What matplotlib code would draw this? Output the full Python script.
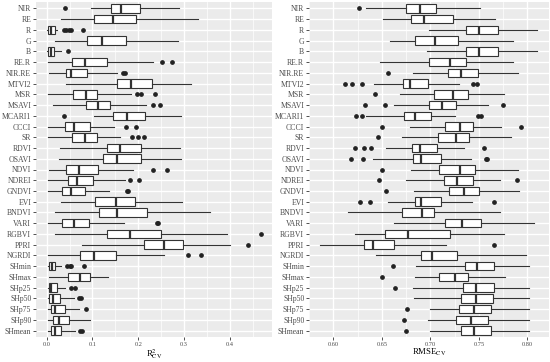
import matplotlib
matplotlib.use("Agg")
import matplotlib.pyplot as plt
from matplotlib.ticker import MultipleLocator

labels = ["NIR", "RE", "R", "G", "B", "RE.R", "NIR.RE", "MTVI2", "MSR", "MSAVI",
          "MCARI1", "CCCI", "SR", "RDVI", "OSAVI", "NDVI", "NDREI", "GNDVI", "EVI",
          "BNDVI", "VARI", "RGBVI", "PPRI", "NGRDI", "SHmin", "SHmax", "SHp25",
          "SHp50", "SHp75", "SHp90", "SHmean"]

# R2_CV : whisker low, q1, median, q3, whisker high, outliers
r2_lo = [0.097, 0.032, 0.000, 0.019, 0.000, 0.003, 0.004, 0.043, 0.003, 0.014,
         0.104, 0.003, 0.003, 0.030, 0.027, 0.004, 0.003, 0.003, 0.032, 0.017,
         0.003, 0.017, 0.078, 0.003, 0.002, 0.006, 0.002, 0.002, 0.003, 0.003, 0.003]
r2_q1 = [0.141, 0.103, 0.003, 0.089, 0.003, 0.055, 0.043, 0.153, 0.058, 0.085,
         0.145, 0.040, 0.056, 0.131, 0.123, 0.043, 0.047, 0.034, 0.105, 0.114,
         0.034, 0.132, 0.212, 0.072, 0.004, 0.047, 0.004, 0.006, 0.009, 0.014, 0.009]
r2_med = [0.163, 0.145, 0.009, 0.120, 0.009, 0.083, 0.054, 0.185, 0.086, 0.113,
          0.176, 0.060, 0.083, 0.161, 0.153, 0.071, 0.067, 0.054, 0.152, 0.153,
          0.060, 0.181, 0.257, 0.104, 0.011, 0.072, 0.009, 0.014, 0.019, 0.027, 0.017]
r2_q3 = [0.204, 0.196, 0.017, 0.173, 0.015, 0.132, 0.088, 0.230, 0.110, 0.138,
         0.214, 0.094, 0.109, 0.205, 0.207, 0.111, 0.101, 0.083, 0.192, 0.219,
         0.093, 0.250, 0.298, 0.152, 0.019, 0.094, 0.022, 0.029, 0.040, 0.049, 0.032]
r2_hi = [0.290, 0.330, 0.022, 0.286, 0.032, 0.232, 0.154, 0.316, 0.185, 0.217,
         0.294, 0.146, 0.160, 0.291, 0.294, 0.189, 0.171, 0.137, 0.295, 0.358,
         0.168, 0.394, 0.401, 0.256, 0.032, 0.134, 0.039, 0.059, 0.071, 0.094, 0.061]
r2_out = [[0.039], [], [0.037, 0.042, 0.048, 0.054, 0.079], [], [0.046],
          [0.253, 0.273], [0.167, 0.172], [], [0.198, 0.206, 0.236], [0.232, 0.248],
          [0.037], [0.174, 0.196], [0.187, 0.199, 0.212], [], [],
          [0.232, 0.263], [0.183, 0.201], [0.175, 0.178], [], [],
          [0.240, 0.243], [0.469], [0.439], [0.309, 0.338], [0.045, 0.050, 0.054, 0.081],
          [], [0.053, 0.061], [0.070, 0.075], [0.086], [], [0.072, 0.078]]

# RMSE_CV
rm_lo = [0.634, 0.651, 0.698, 0.658, 0.696, 0.648, 0.682, 0.642, 0.669, 0.662,
         0.634, 0.679, 0.671, 0.654, 0.641, 0.680, 0.675, 0.683, 0.656, 0.615,
         0.662, 0.622, 0.586, 0.644, 0.685, 0.684, 0.682, 0.683, 0.700, 0.697, 0.700]
rm_q1 = [0.675, 0.680, 0.737, 0.684, 0.737, 0.699, 0.718, 0.672, 0.704, 0.699,
         0.673, 0.715, 0.708, 0.681, 0.682, 0.709, 0.714, 0.719, 0.684, 0.671,
         0.715, 0.653, 0.631, 0.690, 0.736, 0.709, 0.734, 0.732, 0.729, 0.726, 0.731]
rm_med = [0.689, 0.693, 0.750, 0.705, 0.750, 0.720, 0.731, 0.679, 0.723, 0.712,
          0.684, 0.730, 0.726, 0.689, 0.690, 0.730, 0.727, 0.735, 0.690, 0.691,
          0.733, 0.677, 0.641, 0.702, 0.748, 0.725, 0.747, 0.747, 0.745, 0.742, 0.745]
rm_q3 = [0.706, 0.723, 0.770, 0.728, 0.770, 0.737, 0.749, 0.697, 0.739, 0.726,
         0.701, 0.744, 0.740, 0.707, 0.711, 0.746, 0.744, 0.750, 0.711, 0.704,
         0.752, 0.720, 0.662, 0.727, 0.766, 0.739, 0.766, 0.764, 0.762, 0.759, 0.762]
rm_hi = [0.751, 0.767, 0.810, 0.785, 0.810, 0.785, 0.790, 0.729, 0.776, 0.759,
         0.725, 0.773, 0.783, 0.735, 0.742, 0.790, 0.772, 0.791, 0.743, 0.772,
         0.807, 0.776, 0.716, 0.799, 0.802, 0.777, 0.802, 0.802, 0.802, 0.802, 0.802]
rm_out = [[0.626], [], [], [], [], [], [0.656], [0.612, 0.619, 0.629, 0.744, 0.748],
          [0.643], [0.633, 0.653, 0.775], [0.623, 0.629, 0.749, 0.752], [0.650, 0.793],
          [0.646], [0.622, 0.631, 0.639, 0.755], [0.618, 0.630, 0.757, 0.758], [0.650],
          [0.647, 0.789], [0.654], [0.627, 0.638, 0.766], [], [], [], [0.766], [],
          [0.661], [0.650], [0.663], [], [0.676], [0.673], [0.675]]

plt.rcParams['font.family'] = ['Liberation Serif', 'DejaVu Serif']
plt.rcParams['mathtext.fontset'] = 'stix'


def make_stats(lo, q1, med, q3, hi, out):
    return [dict(whislo=a, q1=b, med=c, q3=d, whishi=e, fliers=f, label=n)
            for a, b, c, d, e, f, n in zip(lo, q1, med, q3, hi, out, labels)]


def draw(ax, stats, xlim, major, minor, xlabel, fmt):
    ax.set_facecolor("#EBEBEB")
    for s in ax.spines.values():
        s.set_visible(False)
    ax.xaxis.set_major_locator(MultipleLocator(major))
    ax.xaxis.set_minor_locator(MultipleLocator(minor))
    ax.grid(which="major", color="white", linewidth=1.0)
    ax.grid(which="minor", axis="x", color="white", linewidth=0.5)
    ax.set_axisbelow(True)
    pos = list(range(1, len(labels) + 1))
    ax.bxp(stats, positions=pos, vert=False, widths=0.8, showcaps=False,
           patch_artist=True,
           boxprops=dict(facecolor="white", edgecolor="#333333", linewidth=0.8),
           medianprops=dict(color="#333333", linewidth=1.6),
           whiskerprops=dict(color="#333333", linewidth=0.8),
           flierprops=dict(marker="o", markerfacecolor="#222222",
                           markeredgecolor="#222222", markersize=2.4))
    ax.set_ylim(len(labels) + 0.6, 0.4)
    ax.set_xlim(*xlim)
    ax.set_yticks(pos)
    ax.set_yticklabels(labels)
    ax.xaxis.set_major_formatter(plt.FuncFormatter(lambda v, p: fmt.format(v)))
    ax.tick_params(axis="both", which="major", length=2.2, color="#333333",
                   labelcolor="#4D4D4D", pad=1.2, width=0.6)
    ax.tick_params(axis="y", labelsize=5.6)
    ax.tick_params(axis="x", labelsize=4.6)
    ax.tick_params(which="minor", length=0)
    ax.set_xlabel(xlabel, fontsize=6.3, labelpad=0.3)


fig = plt.figure(figsize=(5.5, 3.62), dpi=100)
ax1 = fig.add_axes([36 / 550, 25 / 362, 236 / 550, 335 / 362])
ax2 = fig.add_axes([309 / 550, 25 / 362, 240 / 550, 335 / 362])

draw(ax1, make_stats(r2_lo, r2_q1, r2_med, r2_q3, r2_hi, r2_out),
     (-0.0235, 0.4925), 0.1, 0.05, r"R$^2_{\mathrm{CV}}$", "{:.1f}")
draw(ax2, make_stats(rm_lo, rm_q1, rm_med, rm_q3, rm_hi, rm_out),
     (0.5748, 0.8222), 0.05, 0.025, r"RMSE$_{\mathrm{CV}}$", "{:.2f}")

fig.savefig("out.png", dpi=100)
